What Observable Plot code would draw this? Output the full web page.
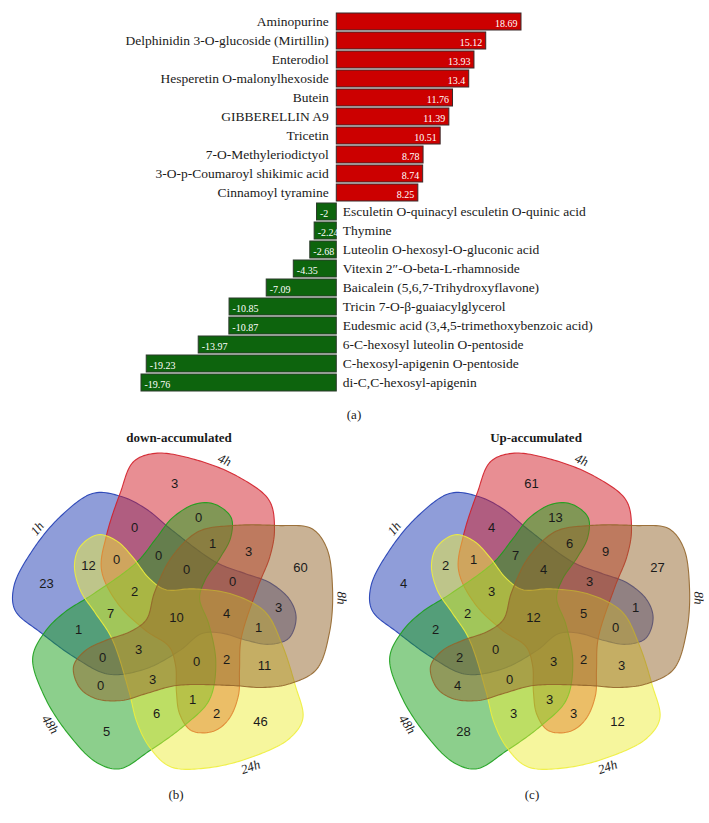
<!DOCTYPE html>
<html><head><meta charset="utf-8">
<script src="https://cdn.jsdelivr.net/npm/d3@7"></script>
<script src="https://cdn.jsdelivr.net/npm/@observablehq/plot@0.6"></script>
<style>
body{margin:0;background:#fff;}
#wrap{position:relative;width:709px;height:823px;overflow:hidden;}
#wrap svg{overflow:visible;}
</style></head><body><div id="wrap"></div>
<script>
// ---------- data: panel (a) ----------
const upNames = ["Aminopurine","Delphinidin 3-O-glucoside (Mirtillin)","Enterodiol","Hesperetin O-malonylhexoside","Butein","GIBBERELLIN A9","Tricetin","7-O-Methyleriodictyol","3-O-p-Coumaroyl shikimic acid","Cinnamoyl tyramine"];
const upValues = [18.69,15.12,13.93,13.4,11.76,11.39,10.51,8.78,8.74,8.25];
const downNames = ["Esculetin O-quinacyl esculetin O-quinic acid","Thymine","Luteolin O-hexosyl-O-gluconic acid","Vitexin 2\u2033-O-beta-L-rhamnoside","Baicalein (5,6,7-Trihydroxyflavone)","Tricin 7-O-\u03B2-guaiacylglycerol","Eudesmic acid (3,4,5-trimethoxybenzoic acid)","6-C-hexosyl luteolin O-pentoside","C-hexosyl-apigenin O-pentoside","di-C,C-hexosyl-apigenin"];
const downValues = [-2,-2.24,-2.68,-4.35,-7.09,-10.85,-10.87,-13.97,-19.23,-19.76];

// ---------- data: panels (b), (c) ----------
const setNames = ["1h","4h","8h","24h","48h"];           // A B C D E
const setColors = ["#1f3cb4","#d21e28","#93662b","#eeee3c","#19a019"];
const drawOrder = [0,1,4,3,2];                          // 1h, 4h, 48h, 24h, 8h (8h on top)
const regionKeys = ["A","B","C","D","E",
  "AB","BC","CD","DE","AE",
  "AD","BE","AC","BD","CE",
  "ABD","BCE","ACD","BDE","ACE",
  "ABE","ABC","BCD","CDE","ADE",
  "ABDE","ABCE","ABCD","BCDE","ACDE","ABCDE"];
const downCounts = [23,3,60,46,5, 0,3,11,6,1, 12,0,3,2,0, 0,1,1,1,0, 0,0,2,3,7, 2,0,4,0,3, 10];
const upCounts   = [4,61,27,12,28, 4,9,3,3,2, 2,13,1,3,4, 1,6,0,3,2, 7,3,2,0,2, 3,4,5,3,0, 12];
// outline of one set (8h) as offsets from the diagram centre; the other sets are its rotations
const shapeTemplate = [[-103,-49],[-91,-33],[-71,-23],[-46,-14],[-30,-2],[-22,25],[-5,60],[22,86],[57,92],[101,92],[135,89],[150,70],[156,30],[153,-15],[140,-52],[114,-66],[87,-70],[55,-68],[0,-68],[-30,-76],[-55,-83],[-81,-81],[-97,-70]];
const setLabelDirections = [145.5,71,4.2,-65.7,-141.6]; // degrees, where each set name sits on its outline

const serif = "'Liberation Serif','DejaVu Serif',serif";
const sans = "'Liberation Sans',Arial,sans-serif";
const wrap = document.getElementById("wrap");

function place(el, left, top){ el.style.position="absolute"; el.style.left=left+"px"; el.style.top=top+"px"; wrap.appendChild(el); }
function caption(text, cx, cy, weight){
  const d=document.createElement("div"); d.textContent=text;
  d.style.cssText=`position:absolute;left:${cx-120}px;width:240px;top:${cy-9}px;line-height:18px;text-align:center;font-family:${serif};font-size:13px;font-weight:${weight||"normal"};color:#1a1a1a`;
  wrap.appendChild(d);
}

// ---------- panel (a) ----------
const rows = upNames.map((n,i)=>({name:n,value:upValues[i]})).concat(downNames.map((n,i)=>({name:n,value:downValues[i]})));
const pos = rows.filter(d=>d.value>0), neg = rows.filter(d=>d.value<0);
const bar = Plot.plot({
  width:709, height:400, margin:0,
  style:{fontFamily:serif, background:"transparent"},
  x:{domain:[-19.76,18.69], range:[141,521], axis:null},
  y:{domain:rows.map(d=>d.name), range:[7,397], padding:0.09, axis:null},
  marks:[
    Plot.barX(pos,{x1:0,x2:"value",y:"name",fill:"#cc0000",stroke:"#3a2a2a",strokeWidth:1}),
    Plot.barX(neg,{x1:0,x2:"value",y:"name",fill:"#0d640d",stroke:"#2a3a2a",strokeWidth:1}),
    Plot.text(pos,{x:0,y:"name",text:"name",textAnchor:"end",dx:-8,fontSize:13.5,fill:"#1a1a1a"}),
    Plot.text(neg,{x:0,y:"name",text:"name",textAnchor:"start",dx:6,fontSize:13.5,fill:"#1a1a1a"}),
    Plot.text(pos,{x:"value",y:"name",text:d=>String(d.value),textAnchor:"end",dx:-4,dy:2,fontSize:10,fill:"#fff"}),
    Plot.text(neg,{x:"value",y:"name",text:d=>String(d.value),textAnchor:"start",dx:3,dy:2,fontSize:10,fill:"#fff"})
  ]
});
place(bar,0,0);
caption("(a)",354,415);

// ---------- Venn helpers ----------
const tmpSvg = d3.select("body").append("svg").attr("width",1).attr("height",1).style("position","absolute").style("left","-10px");
function sampleClosed(pts,n){
  const d = d3.line().curve(d3.curveCatmullRomClosed.alpha(0.5))(pts);
  const path = tmpSvg.append("path").attr("d",d).node();
  const L = path.getTotalLength();
  const out = d3.range(n).map(i=>{const p=path.getPointAtLength(L*i/n); return [p.x,p.y];});
  path.remove();
  return out;
}
function maskOf(key){ let m=0; for(const ch of key) m |= 1<<("ABCDE".indexOf(ch)); return m; }

function venn(counts){
  const polys = setNames.map((s,k)=>{
    const a=(2-k)*72*Math.PI/180, c=Math.cos(a), sn=Math.sin(a);
    return sampleClosed(shapeTemplate.map(([x,y])=>[x*c-y*sn, x*sn+y*c]),320);
  });
  const boxes = polys.map(p=>[d3.min(p,q=>q[0]),d3.max(p,q=>q[0]),d3.min(p,q=>q[1]),d3.max(p,q=>q[1])]);
  const step=2, xs=d3.range(-176,179,step), ys=d3.range(-170,170,step), W=xs.length, H=ys.length;
  const code=new Int32Array(W*H);
  for(let j=0;j<H;j++) for(let i=0;i<W;i++){
    let c=0; const x=xs[i], y=ys[j];
    for(let k=0;k<5;k++){const b=boxes[k]; if(x<b[0]||x>b[1]||y<b[2]||y>b[3]) continue; if(d3.polygonContains(polys[k],[x,y])) c|=1<<k;}
    code[j*W+i]=c;
  }
  const dist=new Float64Array(W*H).fill(1e9);
  for(let j=0;j<H;j++) for(let i=0;i<W;i++){
    const p=j*W+i, c=code[p];
    if(i==0||j==0||i==W-1||j==H-1||code[p-1]!=c||code[p+1]!=c||code[p-W]!=c||code[p+W]!=c) dist[p]=0;
  }
  const D=Math.SQRT2;
  for(let j=0;j<H;j++) for(let i=0;i<W;i++){const p=j*W+i; let d=dist[p];
    if(i>0) d=Math.min(d,dist[p-1]+1); if(j>0){d=Math.min(d,dist[p-W]+1); if(i>0)d=Math.min(d,dist[p-W-1]+D); if(i<W-1)d=Math.min(d,dist[p-W+1]+D);} dist[p]=d;}
  for(let j=H-1;j>=0;j--) for(let i=W-1;i>=0;i--){const p=j*W+i; let d=dist[p];
    if(i<W-1) d=Math.min(d,dist[p+1]+1); if(j<H-1){d=Math.min(d,dist[p+W]+1); if(i<W-1)d=Math.min(d,dist[p+W+1]+D); if(i>0)d=Math.min(d,dist[p+W-1]+D);} dist[p]=d;}
  const cen={};
  for(let p=0;p<W*H;p++){const c=code[p]; if(!c) continue; const o=cen[c]||(cen[c]={sx:0,sy:0,n:0}); o.sx+=xs[p%W]; o.sy+=ys[Math.floor(p/W)]; o.n++;}
  const best={};
  for(let p=0;p<W*H;p++){const c=code[p]; if(!c) continue; const x=xs[p%W], y=ys[Math.floor(p/W)], o=cen[c];
    const s=dist[p]*step-0.35*Math.hypot(x-o.sx/o.n,y-o.sy/o.n);
    if(!best[c]||s>best[c].s) best[c]={s,x,y};}
  const labels=[];
  regionKeys.forEach((key,i)=>{const b=best[maskOf(key)]; if(b) labels.push({x:b.x,y:b.y,text:String(counts[i])});});
  const outlines = polys.map((poly,k)=>poly.concat([poly[0]]).map(([x,y])=>({x,y})));
  const setLabels = setNames.map((s,k)=>{
    const poly=polys[k], deg=setLabelDirections[k];
    let bi=0, br=-1;
    poly.forEach(([x,y],i)=>{let a=Math.atan2(y,x)*180/Math.PI-deg; a=((a%360)+540)%360-180; if(Math.abs(a)<3){const r=Math.hypot(x,y); if(r>br){br=r;bi=i;}}});
    const n=poly.length, p0=poly[(bi-3+n)%n], p1=poly[(bi+3)%n], pt=poly[bi];
    let tx=p1[0]-p0[0], ty=p1[1]-p0[1]; const tl=Math.hypot(tx,ty); tx/=tl; ty/=tl;
    let nx=ty, ny=-tx; if(nx*pt[0]+ny*pt[1]<0){nx=-nx;ny=-ny;}
    let rot=Math.atan2(-ty,tx)*180/Math.PI; while(rot>=100)rot-=180; while(rot<-80)rot+=180;
    return {x:pt[0]+nx*9,y:pt[1]+ny*9,text:s,rotate:rot};
  });
  return Plot.plot({
    width:355, height:340, margin:0,
    style:{background:"transparent",overflow:"visible"},
    x:{domain:[-176,179], range:[0,355], axis:null},
    y:{domain:[-170,170], range:[340,0], axis:null},
    marks:[
      ...drawOrder.map(k=>Plot.line(outlines[k],{x:"x",y:"y",fill:setColors[k],fillOpacity:0.5,stroke:setColors[k],strokeWidth:1.1,strokeOpacity:0.9})),
      Plot.text(labels,{x:"x",y:"y",text:"text",fontSize:13,fontFamily:sans,fill:"#1a1a1a"}),
      Plot.text(setLabels,{x:"x",y:"y",text:"text",rotate:"rotate",fontSize:13,fontFamily:serif,fontStyle:"italic",fill:"#222"})
    ]
  });
}

caption("down-accumulated",179,438,"bold");
caption("Up-accumulated",536,438,"bold");
place(venn(downCounts),0,447);
place(venn(upCounts),357,447);
caption("(b)",176,795);
caption("(c)",532,795);
</script>
</body></html>
